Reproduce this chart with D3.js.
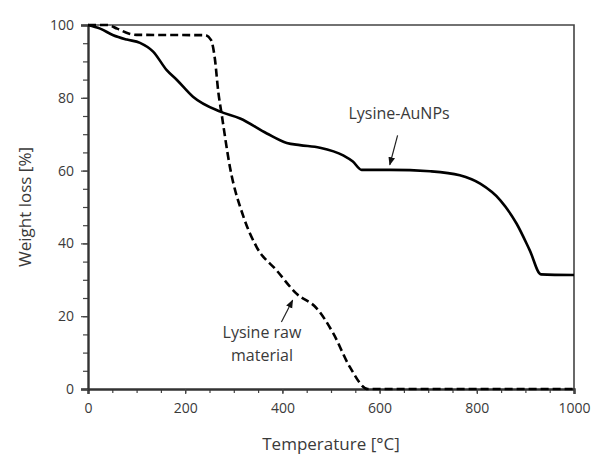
<!DOCTYPE html>
<html>
<head>
<meta charset="utf-8">
<script src="https://cdn.jsdelivr.net/npm/d3@7"></script>
<style>
  body { margin: 0; background: #fff; }
  svg text { font-family: "Open Sans", "Noto Sans", sans-serif; fill: #3a3a3a; }
</style>
</head>
<body>
<svg id="chart" width="594" height="455"></svg>
<script>
// TGA curves
const aunpTemp   = [0, 25, 52, 80, 107, 134, 162, 183, 216, 272, 313, 368, 409, 436, 477, 525, 545, 563, 621, 704, 765, 807, 848, 882, 909, 932, 1000];
const aunpWeight = [100, 99, 97.2, 96, 95.1, 92.7, 87.6, 84.9, 80.3, 76.2, 74.3, 70.2, 67.6, 67, 66.3, 64.2, 62.5, 60.2, 60.2, 59.8, 58.7, 56.4, 51.9, 45.4, 38.1, 31.5, 31.3];

const rawTemp   = [0, 40, 60, 85, 100, 241, 253, 261, 268, 275, 292, 320, 347, 388, 429, 471, 505, 539, 576, 1000];
const rawWeight = [100, 100, 99, 97.6, 97.3, 97.2, 95.9, 90.8, 81.7, 75.5, 61, 47.3, 39, 32.6, 26.2, 22.1, 15.2, 6, 0, 0];

const xTicks = [0, 200, 400, 600, 800, 1000];
const yTicks = [0, 20, 40, 60, 80, 100];

const svg = d3.select("#chart");
const margin = {left: 88, right: 20, top: 25, bottom: 66};
const width = 594 - margin.left - margin.right;
const height = 455 - margin.top - margin.bottom;

const x = d3.scaleLinear().domain([0, 1000]).range([0, width]);
const y = d3.scaleLinear().domain([0, 100]).range([height, 0]);

const g = svg.append("g").attr("transform", "translate(" + margin.left + "," + margin.top + ")");

// frame (top and right)
g.append("path")
  .attr("d", "M0,0H" + width + "V" + height)
  .attr("fill", "none").attr("stroke", "#444").attr("stroke-width", 1.6);

// minor ticks
g.append("g")
  .attr("transform", "translate(0," + height + ")")
  .call(d3.axisBottom(x).tickValues(d3.range(0, 1001, 50)).tickSize(4).tickFormat(""))
  .call(a => a.select(".domain").remove())
  .selectAll("line").attr("stroke", "#444").attr("stroke-width", 1.2);
g.append("g")
  .call(d3.axisLeft(y).tickValues(d3.range(0, 101, 5)).tickSize(5).tickFormat(""))
  .call(a => a.select(".domain").remove())
  .selectAll("line").attr("stroke", "#444").attr("stroke-width", 1.2);

// main axes
const xAxis = g.append("g")
  .attr("transform", "translate(0," + height + ")")
  .call(d3.axisBottom(x).tickValues(xTicks).tickSize(5).tickPadding(9).tickFormat(d3.format("d")));
const yAxis = g.append("g")
  .call(d3.axisLeft(y).tickValues(yTicks).tickSize(7).tickPadding(7).tickFormat(d3.format("d")));
[xAxis, yAxis].forEach(a => {
  a.select(".domain").attr("stroke", "#333").attr("stroke-width", 2.4);
  a.selectAll("line").attr("stroke", "#444").attr("stroke-width", 1.2);
  a.selectAll("text").style("font-size", "14px").style("fill", "#3a3a3a");
});

const line = d3.line()
  .x(d => x(d[0]))
  .y(d => y(d[1]))
  .curve(d3.curveMonotoneX);

g.append("path")
  .datum(d3.zip(rawTemp, rawWeight))
  .attr("d", line)
  .attr("fill", "none").attr("stroke", "#000").attr("stroke-width", 2.6)
  .attr("stroke-dasharray", "8,4");

g.append("path")
  .datum(d3.zip(aunpTemp, aunpWeight))
  .attr("d", line)
  .attr("fill", "none").attr("stroke", "#000").attr("stroke-width", 2.6);

// arrows + annotations
svg.append("defs").append("marker")
  .attr("id", "head").attr("viewBox", "0 0 10 10")
  .attr("refX", 9).attr("refY", 5)
  .attr("markerWidth", 7).attr("markerHeight", 7)
  .attr("orient", "auto")
  .append("path").attr("d", "M0,1L10,5L0,9Z").attr("fill", "#111");

const notes = [
  {from: [637, 69.7], to: [621, 61.6], text: ["Lysine-AuNPs"], at: [640, 74.2]},
  {from: [398, 18.4], to: [421, 24.4], text: ["Lysine raw", "material"], at: [358, 14.0]}
];
notes.forEach(n => {
  g.append("line")
    .attr("x1", x(n.from[0])).attr("y1", y(n.from[1]))
    .attr("x2", x(n.to[0])).attr("y2", y(n.to[1]))
    .attr("stroke", "#222").attr("stroke-width", 1.2)
    .attr("marker-end", "url(#head)");
  const t = g.append("text")
    .attr("x", x(n.at[0])).attr("y", y(n.at[1]))
    .attr("text-anchor", "middle")
    .style("font-size", "16px");
  n.text.forEach((s, i) => t.append("tspan")
    .attr("x", x(n.at[0])).attr("dy", i ? 23 : 0).text(s));
});

// axis titles
svg.append("text")
  .attr("x", margin.left + width / 2).attr("y", 450)
  .attr("text-anchor", "middle").style("font-size", "17px")
  .text("Temperature [°C]");
svg.append("text")
  .attr("transform", "translate(31," + (margin.top + height / 2) + ") rotate(-90)")
  .attr("text-anchor", "middle").style("font-size", "17px")
  .text("Weight loss [%]");
</script>
</body>
</html>
